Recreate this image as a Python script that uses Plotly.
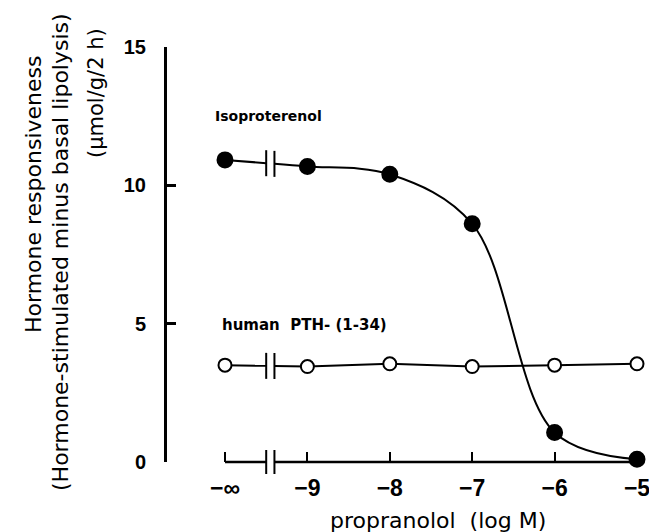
import plotly.graph_objects as go

# ---- data ----
x_vals = [-10, -9, -8, -7, -6, -5]          # -10 stands for -infinity
x_ticktext = ["\u2212\u221e", "\u22129", "\u22128", "\u22127", "\u22126", "\u22125"]
iso_vals = [10.92, 10.68, 10.40, 8.61, 1.07, 0.10]
pth_vals = [3.50, 3.45, 3.55, 3.45, 3.50, 3.55]
y_ticks = [0, 5, 10, 15]
iso_label = "Isoproterenol"
pth_label = "human  PTH- (1-34)"
x_title = "propranolol  (log M)"
y_title_1 = "Hormone responsiveness"
y_title_2 = "(Hormone-stimulated minus basal lipolysis)"
y_title_3 = "(\u03bcmol/g/2 h)"

BREAK = -9.45
GAP = 0.05

W, H = 649, 532
L, R, T, B = 167, 0, 47, 70
PW, PH = W - L - R, H - T - B

def px(xp):
    return (xp - L) / PW

def py(yp):
    return (H - B - yp) / PH

def interp(x0, y0, x1, y1, x):
    return y0 + (y1 - y0) * (x - x0) / (x1 - x0)

FONT = "Liberation Sans"
TFONT = "DejaVu Sans"
fig = go.Figure()

def add_series(vals, filled, smooth):
    yb1 = interp(x_vals[0], vals[0], x_vals[1], vals[1], BREAK - GAP)
    yb2 = interp(x_vals[0], vals[0], x_vals[1], vals[1], BREAK + GAP)
    fig.add_trace(go.Scatter(x=[x_vals[0], BREAK - GAP], y=[vals[0], yb1], mode="lines",
                             line=dict(color="black", width=2), showlegend=False, hoverinfo="skip"))
    fig.add_trace(go.Scatter(x=[BREAK + GAP] + x_vals[1:], y=[yb2] + vals[1:], mode="lines",
                             line=dict(color="black", width=2, shape="spline" if smooth else "linear",
                                       smoothing=1.0),
                             showlegend=False, hoverinfo="skip"))
    for xb, yb in ((BREAK - GAP, yb1), (BREAK + GAP, yb2)):
        fig.add_trace(go.Scatter(x=[xb, xb], y=[yb - 0.47, yb + 0.47], mode="lines",
                                 line=dict(color="black", width=2), showlegend=False, hoverinfo="skip"))
    fig.add_trace(go.Scatter(x=x_vals, y=vals, mode="markers", cliponaxis=False,
                             marker=dict(size=15 if filled else 13,
                                         color="black" if filled else "white",
                                         line=dict(color="black", width=2)),
                             showlegend=False))

add_series(iso_vals, True, True)
add_series(pth_vals, False, False)

# bottom axis baseline with break (paper-y so it is not clipped)
shapes = [
    dict(type="line", xref="x", yref="paper", x0=x_vals[0], x1=BREAK - GAP, y0=0, y1=0,
         line=dict(color="black", width=2.5)),
    dict(type="line", xref="x", yref="paper", x0=BREAK + GAP, x1=x_vals[-1], y0=0, y1=0,
         line=dict(color="black", width=2.5)),
]
for xb in (BREAK - GAP, BREAK + GAP):
    shapes.append(dict(type="line", xref="x", yref="paper", x0=xb, x1=xb,
                       y0=-12 / PH, y1=12 / PH, line=dict(color="black", width=2)))

fig.update_xaxes(range=[-10 - (225 - L) / 82.4, -5 + (W - R - 637) / 82.4],
                 showline=False, showgrid=False, zeroline=False,
                 tickmode="array", tickvals=x_vals, ticktext=x_ticktext,
                 ticks="inside", ticklen=10, tickwidth=2, tickcolor="black",
                 tickfont=dict(family=FONT, size=23, color="black", weight="bold"),
                 ticklabelstandoff=10, ticklabeloverflow="allow")
fig.update_yaxes(range=[0, 15], showline=True, linecolor="black", linewidth=3,
                 showgrid=False, zeroline=False,
                 tickmode="array", tickvals=y_ticks,
                 ticks="inside", ticklen=9, tickwidth=2.5, tickcolor="black",
                 tickfont=dict(family=FONT, size=20, color="black", weight="bold"),
                 ticklabelstandoff=14)

ann = []
ann.append(dict(x=-10.15, y=12.5, xref="x", yref="y", text=iso_label, showarrow=False,
                xanchor="left", yanchor="middle",
                font=dict(family=TFONT, size=14, color="black", weight="bold")))
ann.append(dict(x=-10.06, y=4.95, xref="x", yref="y", text=pth_label, showarrow=False,
                xanchor="left", yanchor="middle",
                font=dict(family=TFONT, size=15, color="black", weight="bold")))
ann.append(dict(x=px(438), y=py(520), xref="paper", yref="paper", text=x_title, showarrow=False,
                xanchor="center", yanchor="middle",
                font=dict(family=TFONT, size=22, color="black")))
ann.append(dict(x=px(33), y=py(195), xref="paper", yref="paper", text=y_title_1, showarrow=False,
                textangle=-90, xanchor="center", yanchor="middle",
                font=dict(family=TFONT, size=22, color="black")))
ann.append(dict(x=px(60), y=py(252), xref="paper", yref="paper", text=y_title_2, showarrow=False,
                textangle=-90, xanchor="center", yanchor="middle",
                font=dict(family=TFONT, size=22, color="black")))
ann.append(dict(x=px(96), y=py(93), xref="paper", yref="paper", text=y_title_3, showarrow=False,
                textangle=-90, xanchor="center", yanchor="middle",
                font=dict(family=TFONT, size=21, color="black")))

fig.update_layout(width=W, height=H, margin=dict(l=L, r=R, t=T, b=B),
                  paper_bgcolor="white", plot_bgcolor="white", annotations=ann, shapes=shapes)

fig.write_html("out.html", config={"displayModeBar": False},
               post_script="document.body.style.margin='0px';")
